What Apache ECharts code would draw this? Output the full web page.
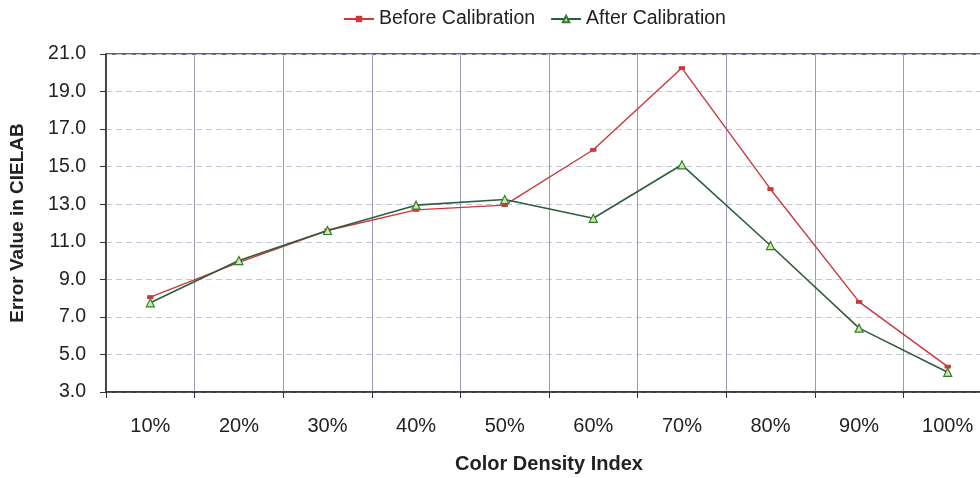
<!DOCTYPE html>
<html>
<head>
<meta charset="utf-8">
<script src="https://cdn.jsdelivr.net/npm/echarts@6/dist/echarts.min.js"></script>
<style>
  html, body { margin: 0; padding: 0; background: #fff; }
  #chart { width: 980px; height: 478px; }
</style>
</head>
<body>
<div id="chart"></div>
<script>
// Colour density steps along the x axis
const categories = ['10%', '20%', '30%', '40%', '50%', '60%', '70%', '80%', '90%', '100%'];
// CIELAB error per density step
const beforeCalibration = [8.05, 9.9, 11.6, 12.7, 12.95, 15.9, 20.25, 13.8, 7.8, 4.35];
const afterCalibration = [7.75, 10.0, 11.6, 12.95, 13.25, 12.25, 15.1, 10.8, 6.4, 4.05];
// Value axis range and step
const yMin = 3, yMax = 21, yStep = 2;

const chart = echarts.init(document.getElementById('chart'));
const font = 'Arial, "Liberation Sans", sans-serif';

chart.setOption({
  animation: false,
  backgroundColor: '#ffffff',
  legend: {
    top: 4,
    left: 338,
    itemWidth: 30,
    itemHeight: 8,
    itemGap: 15,
    textStyle: { fontFamily: font, fontSize: 19.5, color: '#222' },
    data: ['Before Calibration', 'After Calibration']
  },
  grid: {
    left: 106, width: 886, top: 54, height: 338,
    outerBoundsMode: 'none',
    containLabel: false,
    show: true, borderColor: '#333', borderWidth: 1.5, backgroundColor: 'transparent'
  },
  xAxis: {
    type: 'category',
    data: categories,
    boundaryGap: true,
    name: 'Color Density Index',
    nameLocation: 'middle',
    nameGap: 62,
    nameTextStyle: { fontFamily: font, fontSize: 20, fontWeight: 'bold', color: '#222' },
    axisLine: { lineStyle: { color: '#333', width: 1.5 } },
    axisTick: { show: true, interval: 0, length: 6, lineStyle: { color: '#333' } },
    axisLabel: { margin: 24, fontFamily: font, fontSize: 20, color: '#222', interval: 0 },
    splitLine: { show: true, interval: 0, lineStyle: { color: '#9a9ab8', width: 1 } }
  },
  yAxis: {
    type: 'value',
    min: yMin, max: yMax, interval: yStep,
    name: 'Error Value in CIELAB',
    nameLocation: 'middle',
    nameGap: 79,
    nameTextStyle: { fontFamily: font, fontSize: 19, fontWeight: 'bold', color: '#222' },
    axisLine: { show: true, lineStyle: { color: '#333', width: 1.5 } },
    axisTick: { show: true, length: 6, inside: false, lineStyle: { color: '#333' } },
    axisLabel: {
      margin: 20, fontFamily: font, fontSize: 19.5, color: '#222',
      formatter: v => v.toFixed(1)
    },
    splitLine: { show: true, lineStyle: { color: '#c4c4dc', type: [6, 4], width: 1 } }
  },
  series: [
    {
      name: 'Before Calibration',
      type: 'line',
      data: beforeCalibration,
      symbol: 'rect',
      symbolSize: [5, 3],
      lineStyle: { color: '#c8383c', width: 1.4 },
      itemStyle: { color: '#c8383c', borderColor: '#c8383c' },
      z: 3
    },
    {
      name: 'After Calibration',
      type: 'line',
      data: afterCalibration,
      symbol: 'triangle',
      symbolSize: 8,
      lineStyle: { color: '#2f5d3a', width: 1.6 },
      itemStyle: { color: '#d6e6a0', borderColor: '#2e7d32', borderWidth: 1.2 },
      z: 4
    }
  ]
});
</script>
</body>
</html>
